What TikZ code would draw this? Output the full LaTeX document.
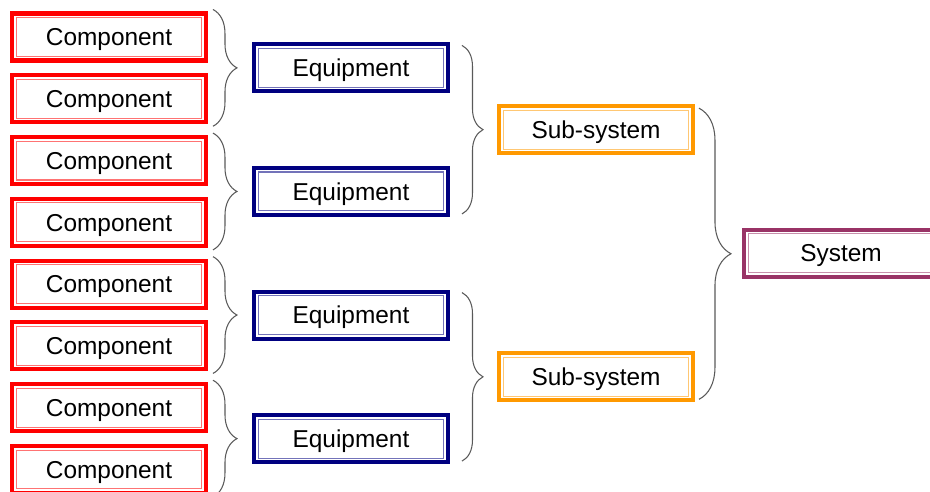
\documentclass[tikz,border=0pt]{standalone}
\usepackage{fontspec}
\setmainfont{Liberation Sans}
\usetikzlibrary{calc, chains, positioning}
\usetikzlibrary{decorations.pathreplacing}
\definecolor{compred}{RGB}{255,0,0}
\definecolor{equipblue}{RGB}{0,0,128}
\definecolor{suborange}{RGB}{255,153,0}
\definecolor{sysplum}{RGB}{153,51,102}

\begin{document}
\begin{tikzpicture}[
    x = 0.02cm, y = -0.02cm,
    node distance = 0.296cm,
    start chain = going below,
    tier/.style = {draw=#1, fill=white, line width=2.3pt,
        minimum width=3.88cm, minimum height=0.94cm, inner sep=0mm,
        outer sep=0mm, font=\fontsize{13.9}{16}\selectfont,
        text height=9.95pt, text depth=0pt,
        path picture={\draw[#1!55, line width=0.6pt]
          ([shift={(2.3pt,2.3pt)}]path picture bounding box.south west) rectangle
          ([shift={(-2.3pt,-2.3pt)}]path picture bounding box.north east);}},
    comp/.style = {tier=compred, on chain},
    equip/.style = {tier=equipblue},
    subsys/.style = {tier=suborange},
    sys/.style = {tier=sysplum},
    bracket/.style = {decorate, decoration={brace, amplitude=#1},
        draw=black!65, line width=0.6pt}
  ]
  \useasboundingbox (0,0) rectangle (930,492);

  \node[comp] (c1) at (109,37) {Component};
  \foreach \i in {2,...,8}
  \node[comp] (c\i) {Component};

  \foreach \k/\a/\b in {1/1/2, 2/3/4, 3/5/6, 4/7/8} {
    \node[equip] (e\k) at ($(c\a)!.5!(c\b)+(242,0)$) {Equipment};
    \draw[bracket=0.48cm] ($(c\a.north east)+(7,-4)$) -- ($(c\b.south east)+(7,4)$);
  }

  \foreach \k/\a/\b in {1/1/2, 2/3/4} {
    \node[subsys] (s\k) at ($(e\a)!.5!(e\b)+(245,0)$) {Sub-system};
    \draw[bracket=0.42cm] ($(e\a.north east)+(14,1)$) -- ($(e\b.south east)+(14,-1)$);
  }

  \node[sys] (sys) at ($(s1)!.5!(s2)+(245,0)$) {System};
  \draw[bracket=0.64cm] ($(s1.north east)+(6,2)$) -- ($(s2.south east)+(6,-1)$);
\end{tikzpicture}
\end{document}
